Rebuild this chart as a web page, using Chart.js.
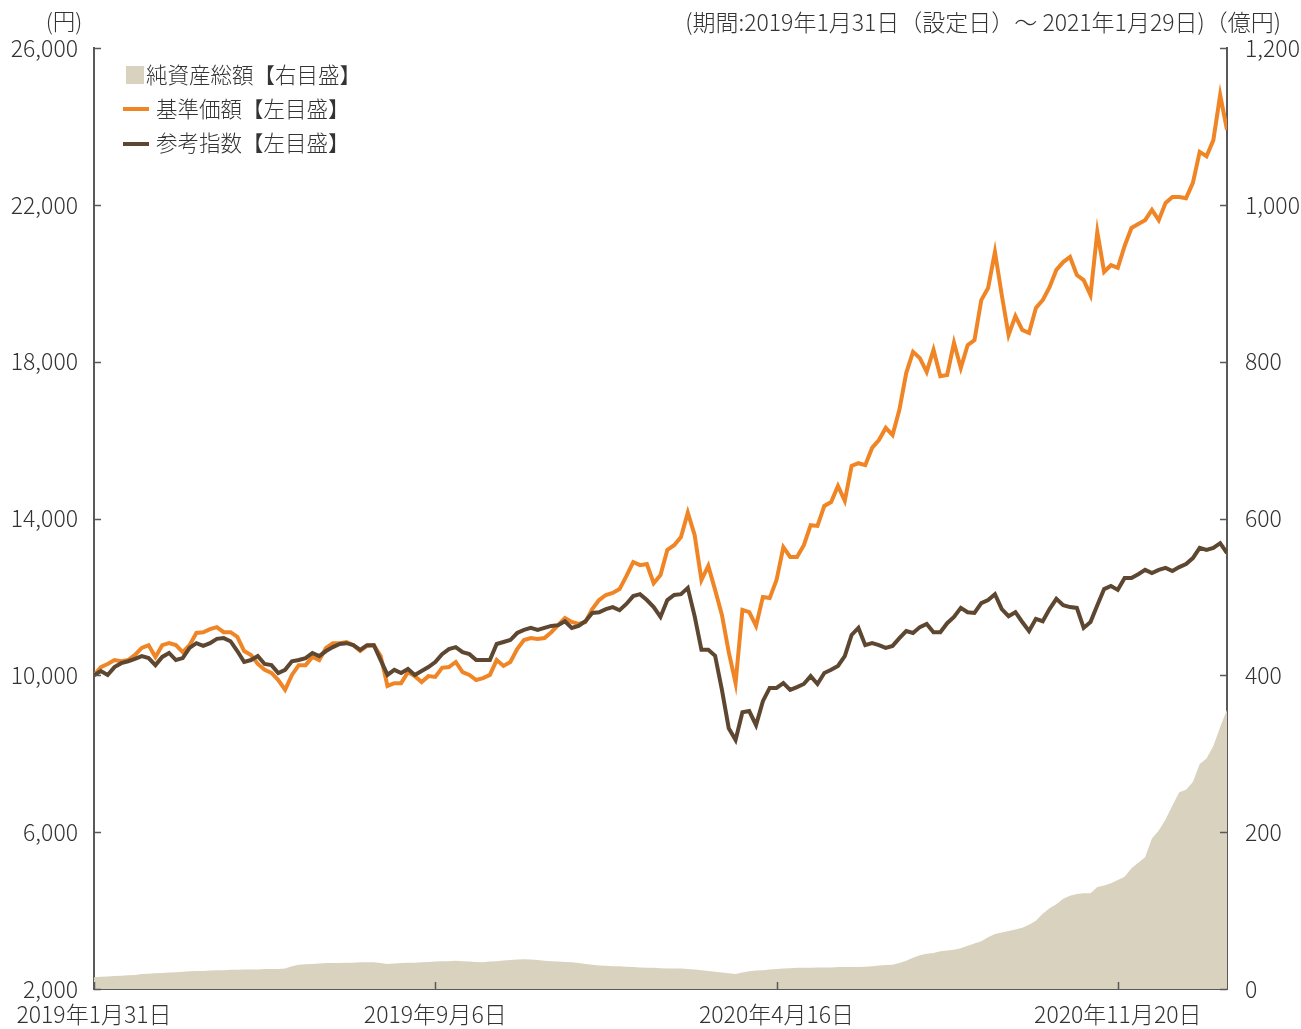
<!DOCTYPE html>
<html>
<head>
<meta charset="utf-8">
<script src="https://cdn.jsdelivr.net/npm/chart.js@4"></script>
<style>
  body { margin: 0; background: #fff; }
  canvas { display: block; }
</style>
</head>
<body>
<canvas id="grafik" width="1301" height="1029"></canvas>
<script>
// tick positions on the x axis (sample index) and their date labels
const tickIdx = [0, 50, 100, 150];
const tickLabels = ['2019年1月31日', '2019年9月6日', '2020年4月16日', '2020年11月20日'];

// 基準価額 (円)
const navValues = [
  10000, 10210, 10290, 10390, 10360, 10390, 10520, 10700, 10770, 10470,
  10770, 10820, 10770, 10590, 10770, 11080, 11100, 11180, 11230, 11100,
  11100, 10980, 10620, 10520, 10290, 10140, 10060, 9880, 9630, 10010,
  10260, 10260, 10470, 10390, 10700, 10820, 10820, 10850, 10770, 10620,
  10750, 10770, 10490, 9730, 9800, 9800, 10080, 9980, 9830, 9980,
  9960, 10190, 10210, 10340, 10080, 10010, 9880, 9930, 10010, 10390,
  10240, 10340, 10670, 10900, 10950, 10930, 10950, 11100, 11280, 11460,
  11360, 11310, 11360, 11690, 11920, 12050, 12100, 12200, 12530, 12890,
  12810, 12840, 12350, 12560, 13200, 13320, 13530, 14150, 13580, 12430,
  12790, 12180, 11540, 10590, 9800, 11670, 11610, 11260, 12000, 11970,
  12430, 13270, 13020, 13020, 13320, 13830, 13810, 14320, 14420, 14830,
  14450, 15340, 15410, 15360, 15800, 16000, 16310, 16130, 16770, 17710,
  18250, 18090, 17740, 18300, 17630, 17660, 18480, 17840, 18420, 18550,
  19570, 19880, 20800, 19700, 18680, 19160, 18810, 18730, 19370, 19570,
  19900, 20340, 20540, 20670, 20210, 20080, 19700, 21310, 20290, 20460,
  20390, 20950, 21410, 21510, 21610, 21870, 21610, 22050, 22200, 22200,
  22170, 22560, 23350, 23240, 23650, 24800, 23910
];

// 参考指数 (円換算)
const refValues = [
  10000, 10110, 10010, 10210, 10310, 10360, 10420, 10490, 10440, 10260,
  10470, 10570, 10390, 10440, 10700, 10820, 10750, 10820, 10930, 10950,
  10870, 10620, 10340, 10390, 10490, 10290, 10260, 10060, 10140, 10360,
  10390, 10440, 10570, 10490, 10620, 10720, 10800, 10820, 10770, 10650,
  10770, 10770, 10390, 10010, 10140, 10060, 10160, 10010, 10110, 10210,
  10340, 10540, 10670, 10720, 10590, 10540, 10390, 10390, 10390, 10800,
  10850, 10900, 11080, 11160, 11210, 11160, 11210, 11260, 11280, 11380,
  11210, 11260, 11380, 11590, 11610, 11690, 11740, 11660, 11820, 12020,
  12070, 11920, 11740, 11490, 11920, 12050, 12070, 12230, 11510, 10650,
  10650, 10500, 9630, 8650, 8350, 9060, 9090, 8730, 9340, 9680,
  9680, 9800, 9630, 9700, 9780, 9980, 9780, 10060, 10140, 10240,
  10490, 11030, 11210, 10770, 10820, 10770, 10700, 10750, 10950, 11130,
  11080, 11230, 11310, 11100, 11100, 11330, 11490, 11720, 11610, 11590,
  11840, 11920, 12070, 11690, 11510, 11610, 11360, 11130, 11440, 11380,
  11690, 11950, 11790, 11740, 11720, 11210, 11360, 11790, 12200, 12280,
  12180, 12480, 12480, 12580, 12690, 12610, 12690, 12740, 12660, 12760,
  12840, 12990, 13250, 13200, 13250, 13370, 13120
];

// 純資産総額 (億円)
const assetValues = [
  15, 15.5, 16, 16.5, 17, 17.5, 18, 19, 19.5, 20,
  20.5, 21, 21.5, 22, 22.5, 23, 23, 23.5, 24, 24,
  24.5, 24.5, 25, 25, 25, 25.5, 25.5, 25.5, 26, 29,
  31, 31.5, 32, 32.5, 33, 33, 33, 33.5, 33.5, 34,
  34, 34, 33, 32, 32.5, 33, 33.5, 33.5, 34, 34.5,
  35, 35.5, 35.5, 36, 35.5, 35, 34.5, 34, 35, 35.5,
  36.5, 37, 37.5, 38, 37.5, 37, 36, 35.5, 35, 34.5,
  34, 33, 32, 31, 30, 29.5, 29, 29, 28.5, 28,
  27.5, 27, 27, 26.5, 26, 26, 26, 25.5, 25, 24,
  23, 22, 21, 20, 19, 21, 22.5, 23.5, 24, 25,
  25.5, 26, 26.5, 27, 27, 27, 27.5, 27.5, 27.5, 28,
  28, 28, 28, 28.5, 29, 30, 30.5, 31, 33, 36,
  40, 43, 45, 46, 48, 49, 50, 52, 55, 58,
  61, 66, 70, 72, 74, 76, 78, 82, 87, 96,
  103, 108, 115, 119, 121, 122, 122, 130, 132, 135,
  139, 143, 154, 161, 168, 192, 202, 216, 234, 251,
  254, 264, 287, 294, 310, 334, 356
];

const warnaOranye = '#F08526';
const warnaCoklat = '#5D4731';
const warnaArea = '#D9D2BF';
const warnaTeks = '#333333';
const warnaSumbu = '#595959';
const fontNama = "'Noto Sans CJK JP', 'Noto Sans', sans-serif";

function toXY(arr) {
  return arr.map((v, i) => ({ x: i, y: v }));
}

// teks tambahan, legenda dan tanda tick ke dalam
const hiasan = {
  id: 'hiasan',
  afterDraw(chart) {
    const ctx = chart.ctx;
    const area = chart.chartArea;
    const sx = chart.scales.x, sy = chart.scales.y, sy2 = chart.scales.y2;
    ctx.save();

    // tick marks pointing inward
    ctx.strokeStyle = warnaSumbu;
    ctx.lineWidth = 1.5;
    ctx.beginPath();
    sy.ticks.forEach(t => {
      const y = Math.round(sy.getPixelForValue(t.value)) + 0.5;
      ctx.moveTo(area.left, y); ctx.lineTo(area.left + 7, y);
    });
    sy2.ticks.forEach(t => {
      const y = Math.round(sy2.getPixelForValue(t.value)) + 0.5;
      ctx.moveTo(area.right, y); ctx.lineTo(area.right - 7, y);
    });
    sx.ticks.forEach(t => {
      const x = Math.round(sx.getPixelForValue(t.value)) + 0.5;
      ctx.moveTo(x, area.bottom); ctx.lineTo(x, area.bottom - 7);
    });
    ctx.stroke();

    // units and period
    ctx.fillStyle = warnaTeks;
    ctx.font = '300 22.5px ' + fontNama;
    ctx.textBaseline = 'middle';
    ctx.textAlign = 'center';
    ctx.fillText('(円)', 64, 21);
    ctx.font = '300 23px ' + fontNama;
    ctx.textAlign = 'right';
    ctx.fillText('(期間:2019年1月31日（設定日）～ 2021年1月29日)（億円)', 1281, 22);

    // legend
    ctx.font = '300 21.5px ' + fontNama;
    ctx.textAlign = 'left';
    ctx.fillStyle = warnaArea;
    ctx.fillRect(126, 66, 18, 18);
    ctx.fillStyle = warnaTeks;
    ctx.fillText('純資産総額【右目盛】', 146, 75);

    ctx.lineWidth = 4;
    ctx.strokeStyle = warnaOranye;
    ctx.beginPath(); ctx.moveTo(123, 109); ctx.lineTo(149, 109); ctx.stroke();
    ctx.fillText('基準価額【左目盛】', 156, 109);

    ctx.strokeStyle = warnaCoklat;
    ctx.beginPath(); ctx.moveTo(123, 144); ctx.lineTo(149, 144); ctx.stroke();
    ctx.fillText('参考指数【左目盛】', 156, 143);

    ctx.restore();
  }
};

const tickFont = { family: fontNama, size: 23, weight: 300 };

const ctx = document.getElementById('grafik').getContext('2d');
const grafik = new Chart(ctx, {
  type: 'line',
  data: {
    datasets: [
      {
        label: '参考指数【左目盛】',
        data: toXY(refValues),
        yAxisID: 'y',
        borderColor: warnaCoklat,
        borderWidth: 4,
        pointRadius: 0,
        tension: 0,
        order: 0
      },
      {
        label: '基準価額【左目盛】',
        data: toXY(navValues),
        yAxisID: 'y',
        borderColor: warnaOranye,
        borderWidth: 4,
        pointRadius: 0,
        tension: 0,
        order: 1
      },
      {
        label: '純資産総額【右目盛】',
        data: toXY(assetValues),
        yAxisID: 'y2',
        borderWidth: 0,
        borderColor: warnaArea,
        backgroundColor: warnaArea,
        fill: 'origin',
        pointRadius: 0,
        tension: 0,
        order: 2
      }
    ]
  },
  options: {
    responsive: false,
    animation: false,
    devicePixelRatio: 1,
    layout: { padding: { top: 48, left: 0, right: 0, bottom: 0 } },
    plugins: {
      legend: { display: false },
      tooltip: { enabled: false }
    },
    scales: {
      x: {
        type: 'linear',
        min: 0,
        max: navValues.length - 1,
        grid: { display: false },
        border: { display: true, color: warnaSumbu, width: 2 },
        afterBuildTicks: s => { s.ticks = tickIdx.map(v => ({ value: v })); },
        afterFit: s => { s.height = 40; },
        ticks: {
          autoSkip: false,
          maxRotation: 0,
          padding: 3,
          color: warnaTeks,
          font: tickFont,
          callback: v => tickLabels[tickIdx.indexOf(v)]
        }
      },
      y: {
        position: 'left',
        min: 2000,
        max: 26000,
        grid: { display: false },
        border: { display: true, color: warnaSumbu, width: 2 },
        afterFit: s => { s.width = 94; },
        ticks: {
          stepSize: 4000,
          padding: 8,
          color: warnaTeks,
          font: tickFont,
          callback: v => v.toLocaleString('en-US')
        }
      },
      y2: {
        position: 'right',
        min: 0,
        max: 1200,
        grid: { display: false },
        border: { display: true, color: warnaSumbu, width: 2 },
        afterFit: s => { s.width = 74; },
        ticks: {
          stepSize: 200,
          padding: 10,
          color: warnaTeks,
          font: tickFont,
          callback: v => v.toLocaleString('en-US')
        }
      }
    }
  },
  plugins: [hiasan]
});
</script>
</body>
</html>
